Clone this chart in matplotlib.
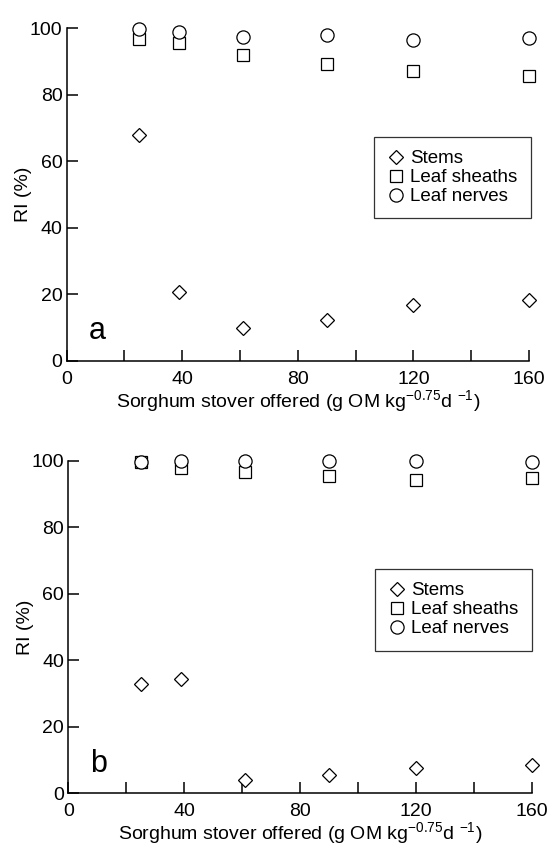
import numpy as np
import matplotlib
matplotlib.use('Agg')
from matplotlib import pyplot as plt

plt.rcParams['font.family'] = ['Liberation Sans', 'DejaVu Sans']
plt.rcParams['mathtext.fontset'] = 'custom'
plt.rcParams['mathtext.rm'] = 'Liberation Sans'
plt.rcParams['mathtext.it'] = 'Liberation Sans'

# stover offered (g OM kg^-0.75 d^-1)
offered = [25, 39, 61, 90, 120, 160]

# panel a
stems_a = [68, 20.6, 9.8, 12.3, 16.8, 18.3]
sheaths_a = [96.9, 95.7, 92.1, 89.3, 87.3, 85.8]
nerves_a = [99.7, 98.9, 97.4, 97.9, 96.6, 97.2]

# panel b
stems_b = [32.9, 34.3, 4.0, 5.5, 7.5, 8.5]
sheaths_b = [99.7, 97.9, 96.7, 95.5, 94.2, 94.9]
nerves_b = [99.7, 100, 100, 100, 100, 99.5]

labels = ['Stems', 'Leaf sheaths', 'Leaf nerves']
xticks = [0, 40, 80, 120, 160]
yticks = [0, 20, 40, 60, 80, 100]
xlabel = 'Sorghum stover offered (g OM kg$^{-0.75}$d $^{-1}$)'

fig = plt.figure(figsize=(5.54, 8.48), dpi=100)


def draw(rect, stems, sheaths, nerves, letter, leg_anchor):
    ax = fig.add_axes(rect)
    kw = dict(linestyle='none', mfc='white', mec='black', mew=0.9, clip_on=False)
    ax.plot(offered, stems, marker='D', ms=7.2, label=labels[0], **kw)
    ax.plot(offered, sheaths, marker='s', ms=8, label=labels[1], **kw)
    ax.plot(offered, nerves, marker='o', ms=9.5, label=labels[2], **kw)
    ax.set_xlim(0, 160)
    ax.set_ylim(0, 100)
    ax.set_xticks(xticks)
    ax.set_xticks([20, 60, 100, 140], minor=True)
    ax.set_yticks(yticks)
    for s in ['top', 'right']:
        ax.spines[s].set_visible(False)
    for s in ['left', 'bottom']:
        ax.spines[s].set_linewidth(1.1)
    ax.tick_params(which='both', direction='in', length=8, width=1.1, labelsize=14)
    ax.tick_params(axis='x', pad=7)
    ax.tick_params(axis='y', pad=3)
    ax.set_xlabel(xlabel, fontsize=14, labelpad=0)
    ax.set_ylabel('RI (%)', fontsize=14)
    ax.yaxis.set_label_coords(-0.075, 0.5)
    ax.text(10.5, 6.5, letter, fontsize=22, ha='center', va='baseline')
    leg = ax.legend(loc='upper right', bbox_to_anchor=leg_anchor, fontsize=13.5,
                    frameon=True, fancybox=False, edgecolor='black',
                    handletextpad=0.25, handlelength=1.0, borderpad=0.7,
                    labelspacing=0.1, borderaxespad=0)
    leg.get_frame().set_linewidth(0.9)
    return ax


draw([0.1204, 0.5743, 0.8345, 0.3923], stems_a, sheaths_a, nerves_a, 'a', (1.004, 0.673))
draw([0.1233, 0.0645, 0.8365, 0.3922], stems_b, sheaths_b, nerves_b, 'b', (1.0, 0.674))

fig.savefig('out.png', dpi=100)
